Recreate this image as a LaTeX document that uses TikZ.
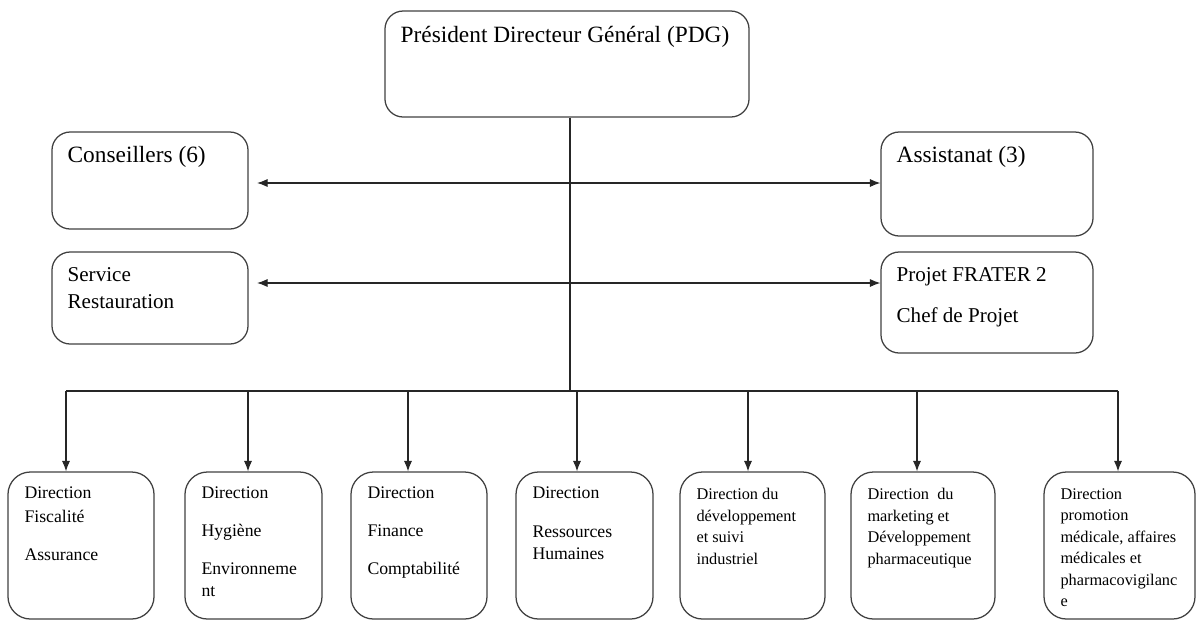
\documentclass[tikz,border=0pt]{standalone}
\usepackage{fontspec}
\setmainfont{Liberation Serif}
\usepackage{tikz}
\usetikzlibrary{positioning,arrows.meta}

\begin{document}
\begin{tikzpicture}[x=0.025cm, y=-0.025cm,
        >={Latex[length=7.5pt,width=5.8pt]},
        unitbox/.style={draw=black!75, line width=0.9pt, rounded corners=13pt, inner sep=0pt},
        dirbox/.style={draw=black!75, line width=0.9pt, rounded corners=16pt, inner sep=0pt,
            minimum height=3.675cm},
        bigtext/.style={inner sep=0pt, align=left, font=\fontsize{16.6}{20}\selectfont},
        midtext/.style={inner sep=0pt, align=left, font=\fontsize{15}{19.2}\selectfont},
        dirtext/.style={inner sep=0pt, align=left, font=\fontsize{12.6}{15.6}\selectfont},
        smalltext/.style={inner sep=0pt, align=left, font=\fontsize{11.6}{15.3}\selectfont},
        link/.style={line width=0.75pt, black!85}
    ]

        \useasboundingbox (0,0) rectangle (1196,621);

        % Direction generale

        \node [unitbox,
        minimum width=9.1cm,
        minimum height=2.65cm
            ] (pdg) at (567,64) {};
        \node [bigtext, below right=11.4pt and 11.4pt of pdg.north west] (pdgtxt)
            {Président Directeur Général (PDG)};

        % Rattachements

        \node [unitbox, minimum width=4.9cm, minimum height=2.425cm] (cons) at (150,180.5) {};
        \node [bigtext, below right=10.7pt and 11.4pt of cons.north west] (constxt)
            {Conseillers (6)};

        \node [unitbox, minimum width=5.3cm, minimum height=2.6cm] (assist) at (987,184) {};
        \node [bigtext, below right=10.7pt and 11.4pt of assist.north west] (assisttxt)
            {Assistanat (3)};

        \node [unitbox, minimum width=4.9cm, minimum height=2.3cm] (serv) at (150,298) {};
        \node [midtext, below right=11.4pt and 11.4pt of serv.north west] (servtxt)
            {Service\\Restauration};

        \node [unitbox, minimum width=5.3cm, minimum height=2.525cm] (projet) at (987,302.5) {};
        \node [midtext, below right=11.4pt and 11.4pt of projet.north west] (projettxt)
            {Projet FRATER 2\\[10pt]Chef de Projet};

        % Directions

        \node [dirbox, minimum width=3.65cm] (b1) at (81,545.5) {};
        \node [dirtext, below right=10.7pt and 12pt of b1.north west] (b1txt)
            {Direction\\[1.5pt]Fiscalité\\[11.4pt]Assurance};

        \node [dirbox, minimum width=3.425cm] (b2) at (253.5,545.5) {};
        \node [dirtext, below right=10.7pt and 12pt of b2.north west] (b2txt)
            {Direction\\[11.4pt]Hygiène\\[11.4pt]Environneme\\nt};

        \node [dirbox, minimum width=3.4cm] (b3) at (419,545.5) {};
        \node [dirtext, below right=10.7pt and 12pt of b3.north west] (b3txt)
            {Direction\\[11.4pt]Finance\\[11.4pt]Comptabilité};

        \node [dirbox, minimum width=3.425cm] (b4) at (584.5,545.5) {};
        \node [dirtext, below right=10.7pt and 12pt of b4.north west] (b4txt)
            {Direction\\[12pt]Ressources\\Humaines};

        \node [dirbox, minimum width=3.625cm] (b5) at (752.5,545.5) {};
        \node [smalltext, below right=12pt and 12pt of b5.north west] (b5txt)
            {Direction du\\développement\\et suivi\\industriel};

        \node [dirbox, minimum width=3.6cm] (b6) at (923,545.5) {};
        \node [smalltext, below right=12pt and 12pt of b6.north west] (b6txt)
            {Direction\ \ du\\marketing et\\Développement\\pharmaceutique};

        \node [dirbox, minimum width=3.775cm] (b7) at (1119.5,545.5) {};
        \node [smalltext, below right=12pt and 12pt of b7.north west] (b7txt)
            {Direction\\promotion\\médicale, affaires\\médicales et\\pharmacovigilanc\\e};

        % Liaisons

        \coordinate (hub) at (570,391);
        \coordinate (r1) at (570,183);
        \coordinate (r2) at (570,283);

        \draw[link] (pdg.south -| hub) -- (hub);

        \draw[link,<->,shorten <=6pt] (cons.east |- r1) -- (assist.west |- r1);
        \draw[link,<->,shorten <=6pt] (serv.east |- r2) -- (projet.west |- r2);

        \coordinate (j1) at (66,391);
        \coordinate (j2) at (248,391);
        \coordinate (j3) at (408,391);
        \coordinate (j4) at (577,391);
        \coordinate (j5) at (748,391);
        \coordinate (j6) at (917,391);
        \coordinate (j7) at (1118,391);

        \draw[link] (j1) -- (j7);

        \draw[link,->] (j1) -- (j1 |- b1.north);
        \draw[link,->] (j2) -- (j2 |- b2.north);
        \draw[link,->] (j3) -- (j3 |- b3.north);
        \draw[link,->] (j4) -- (j4 |- b4.north);
        \draw[link,->] (j5) -- (j5 |- b5.north);
        \draw[link,->] (j6) -- (j6 |- b6.north);
        \draw[link,->] (j7) -- (j7 |- b7.north);
\end{tikzpicture}
\end{document}
